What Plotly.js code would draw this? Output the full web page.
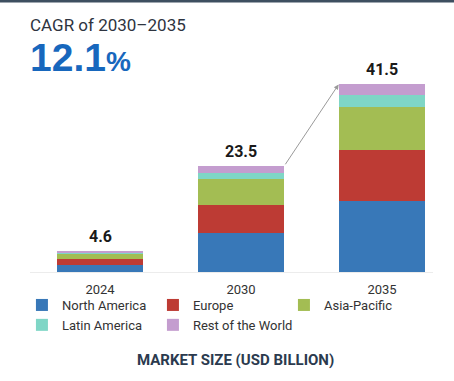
<!DOCTYPE html>
<html>
<head>
<meta charset="utf-8">
<script src="https://cdn.plot.ly/plotly-3.0.1.min.js"></script>
<style>
html,body{margin:0;padding:0;background:#fff;}
#chart{width:454px;height:381px;}
</style>
</head>
<body>
<div id="chart"></div>
<script>
const years = ["2024", "2030", "2035"];
const northAmerica = [1.6, 8.6, 15.7];
const europe = [1.3, 6.3, 11.2];
const asiaPacific = [1.1, 5.6, 9.6];
const latinAmerica = [0.3, 1.5, 2.6];
const restOfWorld = [0.3, 1.5, 2.4];
const totals = [4.6, 23.5, 41.5];
const seriesNames = ["North America", "Europe", "Asia-Pacific", "Latin America", "Rest of the World"];
const seriesColors = ["#3878b8", "#bd3b34", "#a3bd53", "#7fd6c6", "#c49dcf"];
const cagrLabel = "CAGR of 2030\u20132035";
const cagrValue = "12.1";

const seriesValues = [northAmerica, europe, asiaPacific, latinAmerica, restOfWorld];
const barGap = 0.385;
const half = (1 - barGap) / 2;

const traces = seriesValues.map((vals, i) => ({
  type: "bar",
  x: years,
  y: vals,
  name: seriesNames[i],
  marker: {color: seriesColors[i], line: {width: 0}},
  hoverinfo: "name+y"
}));

const annotations = years.map((yr, i) => ({
  x: i, y: totals[i], xref: "x", yref: "y",
  text: "<b>" + totals[i].toFixed(1) + "</b>",
  showarrow: false, yanchor: "bottom", yshift: 3,
  font: {family: "Roboto, Arial, sans-serif", size: 16, color: "#1a1a1a"}
}));

annotations.push({
  x: 2 - half, y: totals[2], xref: "x", yref: "y",
  ax: 1 + half, ay: totals[1], axref: "x", ayref: "y",
  showarrow: true, arrowhead: 2, arrowsize: 1, arrowwidth: 1, arrowcolor: "#9a9a9a",
  text: ""
});

annotations.push({
  x: -0.005, y: 1.235, xref: "paper", yref: "paper",
  xanchor: "left", yanchor: "middle", showarrow: false,
  text: cagrLabel,
  font: {family: "Roboto, Arial, sans-serif", size: 17, color: "#2e3440"}
});
annotations.push({
  x: -0.005, y: 1.075, xref: "paper", yref: "paper",
  xanchor: "left", yanchor: "middle", showarrow: false,
  text: "<b>" + cagrValue + "<span style=\"font-size:28px\">%</span></b>",
  font: {family: "Liberation Sans, Arial, sans-serif", size: 39, color: "#1767bd"}
});
annotations.push({
  x: 0.51, y: -0.44, xref: "paper", yref: "paper",
  xanchor: "center", yanchor: "middle", showarrow: false,
  text: "<b>MARKET SIZE (USD BILLION)</b>",
  font: {family: "Roboto, Arial, sans-serif", size: 15, color: "#2b3a4e"}
});

const layout = {
  width: 454, height: 381,
  margin: {l: 30, r: 21, t: 72, b: 109, pad: 0},
  paper_bgcolor: "#ffffff", plot_bgcolor: "#ffffff",
  barmode: "stack", bargap: barGap,
  showlegend: true,
  font: {family: "Roboto, Arial, sans-serif", size: 13, color: "#333"},
  xaxis: {
    type: "category", range: [-0.4965, 2.3617],
    showgrid: false, zeroline: false,
    showline: true, linecolor: "#ececec", linewidth: 1,
    ticks: "", ticklabelstandoff: 5,
    tickfont: {family: "Roboto, Arial, sans-serif", size: 13, color: "#333"},
    fixedrange: true
  },
  yaxis: {
    range: [0, 44.25], visible: false, showgrid: false, zeroline: false, fixedrange: true
  },
  legend: {
    orientation: "h", x: -0.02, xanchor: "left", y: -0.09, yanchor: "top",
    traceorder: "normal", entrywidth: 86, entrywidthmode: "pixels",
    font: {family: "Roboto, Arial, sans-serif", size: 13, color: "#333"},
    bgcolor: "rgba(0,0,0,0)", itemclick: false, itemdoubleclick: false
  },
  shapes: [{
    type: "rect", xref: "paper", yref: "paper",
    x0: -0.08, x1: 1.06, y0: 1.348, y1: 1.365,
    fillcolor: "#3e4f60", line: {width: 0}
  }],
  annotations: annotations
};

Plotly.newPlot("chart", traces, layout, {displayModeBar: false, staticPlot: true});
</script>
</body>
</html>
